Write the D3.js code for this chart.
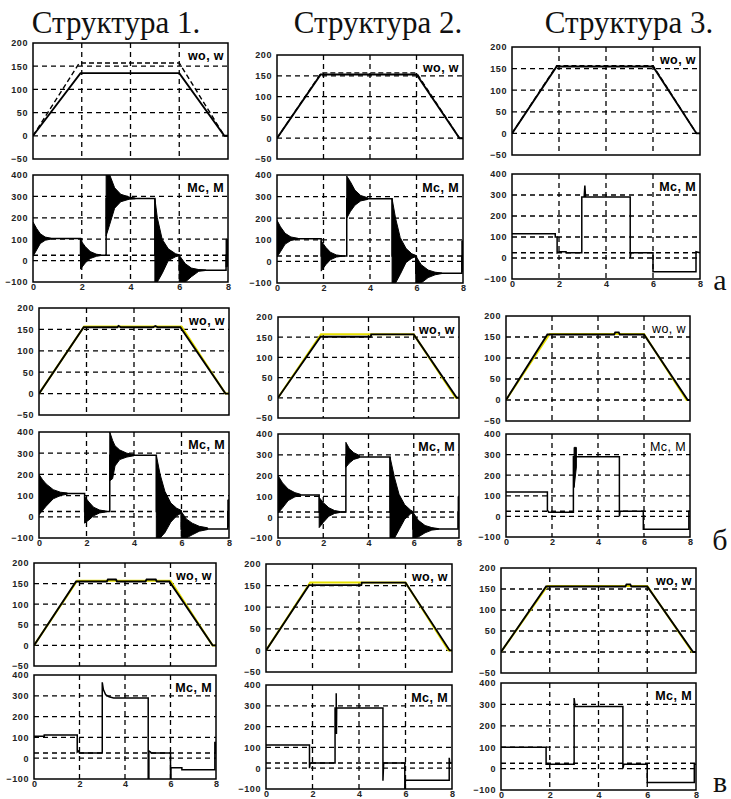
<!DOCTYPE html>
<html>
<head>
<meta charset="utf-8">
<script src="https://cdn.jsdelivr.net/npm/d3@7"></script>
<style>
  body { margin: 0; background: #fff; }
  text { font-family: "Liberation Sans", Arial, sans-serif; }
  .serif { font-family: "Liberation Serif", "DejaVu Serif", "Times New Roman", serif; }
</style>
</head>
<body>
<svg id="fig" width="731" height="799"></svg>
<script>
// подписи
const structures = ["Структура 1.", "Структура 2.", "Структура 3."];
const rowLabels = ["а", "б", "в"];
const speedName = "wo, w";
const torqueName = "Mc, M";

// оси
const timeTicks = [0, 2, 4, 6, 8];
const speedTicks = [200, 150, 100, 50, 0, -50];
const torqueTicks = [400, 300, 200, 100, 0, -100];
const timeGrid = [2, 4, 6];
const speedGrid = [150, 100, 50, 0];
const torqueGrid = [300, 200, 100, 0];
const mcLevel = 25;

// wo – задание скорости (t, рад/с)
const woRef = [[0, 0], [1.9, 157], [6, 157], [7.85, 0], [8, 0]];

// w – скорость, по структурам (строки а, б, в)
const wA1 = [[0, 0], [1.95, 135], [6, 135], [7.85, 0], [8, 0]];
const wA2 = [[0, 0], [1.88, 153], [6, 153], [7.85, 0], [8, 0]];
const wA3 = [[0, 0], [1.9, 155], [6, 155], [7.85, 0], [8, 0]];
const wB1 = [[0, 0], [1.88, 155], [3.3, 155], [3.35, 158], [3.45, 155], [4.8, 155], [4.9, 158], [5, 155], [5.95, 155], [7.85, 0], [8, 0]];
const wB2 = [[0, 0], [1.88, 151], [4.1, 151], [4.12, 157], [6, 157], [7.9, 0], [8, 0]];
const wB3 = [[0, 0], [1.8, 156], [4.7, 156], [4.75, 161], [4.9, 161], [4.95, 156], [6, 156], [7.9, 0], [8, 0]];
const wC1 = [[0, 0], [1.85, 155], [3.2, 155], [3.25, 160], [3.6, 160], [3.65, 155], [4.9, 155], [4.95, 160], [5.35, 160], [5.4, 155], [5.95, 155], [7.85, 0], [8, 0]];
const wC2 = [[0, 0], [1.85, 151], [4.1, 151], [4.12, 157], [6, 157], [7.9, 0], [8, 0]];
const wC3 = [[0, 0], [1.85, 156], [5.1, 156], [5.15, 161], [5.3, 161], [5.35, 156], [6, 156], [7.88, 0], [8, 0]];

// M – момент двигателя (t, Н·м)
const mA1 = [[0, 103], [1.95, 103], [1.95, 25], [3, 25], [3, 290], [5, 290], [5, 25], [6, 25], [6, -45], [7.92, -45], [7.92, 25], [8, 25]];
const mA2 = [[0, 105], [1.9, 105], [1.9, 25], [3, 25], [3, 290], [4.95, 290], [4.95, 25], [5.97, 25], [5.97, -55], [7.95, -55], [7.95, 25], [8, 25]];
const mA3 = [[0, 115], [1.84, 115], [1.84, 100], [1.92, 100], [1.92, 25], [2, 30], [2.3, 30], [2.3, 25], [2.97, 25], [2.97, 290], [3.07, 290], [3.1, 345], [3.13, 290], [5.03, 290], [5.03, 0], [5.06, 25], [6, 25], [6, -65], [7.83, -65], [7.83, 30], [8, 25]];
const mB1 = [[0, 110], [1.92, 110], [1.92, 25], [2.98, 25], [2.98, 290], [4.94, 290], [4.94, 25], [5.99, 25], [5.99, -57], [7.95, -57], [7.95, 25], [8, 25]];
const mB2 = [[0, 107], [1.82, 107], [1.82, 25], [3, 25], [3, 290], [4.95, 290], [4.95, 25], [5.96, 25], [5.96, -57], [7.96, -57], [7.96, 25], [8, 25]];
const mB3 = [[0, 118], [1.8, 118], [1.8, 30], [1.86, 20], [2.93, 20], [2.93, 290], [4.93, 290], [4.93, 0], [4.96, 25], [5.97, 25], [5.97, -62], [7.95, -62], [7.95, 25], [8, 25]];
const mC1 = [[0, 105], [0.45, 105], [0.45, 112], [1.9, 112], [1.9, 30], [1.95, 35], [2, 25], [3, 25], [3, 365], [3.05, 330], [3.15, 305], [3.3, 295], [3.5, 290], [5.02, 290], [5.02, -100], [5.05, -100], [5.05, 35], [5.12, 30], [5.15, 25], [6, 25], [6, -100], [6.02, -100], [6.02, -46], [6.5, -46], [6.5, -56], [7.95, -56], [7.95, 75], [7.98, 75], [7.98, 25], [8, 25]];
const mC2 = [[0, 112], [1.87, 112], [1.87, 0], [1.9, 25], [2.97, 25], [2.97, 290], [3.02, 290], [3.02, 360], [3.03, 165], [3.04, 290], [5.03, 290], [5.03, -60], [5.06, 25], [5.97, 25], [5.97, -100], [6, -58], [7.88, -58], [7.88, 50], [7.9, 25], [8, 25]];
const mC3 = [[0, 100], [1.85, 100], [1.85, 20], [3, 20], [3, 330], [3.04, 290], [5, 290], [5, 0], [5.04, 20], [6, 20], [6, -65], [7.93, -65], [7.93, 20], [8, 20]];

// огибающие колебаний момента (t, верх, низ)
const envA1 = [
  [[0, 180, 20], [0.15, 150, 50], [0.3, 125, 80], [0.5, 110, 95], [0.75, 104, 101]],
  [[1.95, 95, -40], [2.15, 65, -10], [2.35, 42, 10], [2.6, 30, 20], [2.8, 26, 24]],
  [[3, 400, 115], [3.15, 400, 170], [3.35, 340, 245], [3.6, 310, 275], [3.95, 297, 287], [4.2, 292, 289]],
  [[5, 290, -100], [5.1, 200, -100], [5.3, 100, -60], [5.55, 55, 0], [5.85, 32, 18], [6, 27, 23]],
  [[6, 25, -100], [6.25, -15, -100], [6.5, -35, -75], [6.8, -42, -50], [7.1, -44, -46]],
  [[7.92, 100, -30], [8, 100, -25]]
];
const envA2 = [
  [[0, 190, 20], [0.15, 160, 45], [0.35, 130, 80], [0.6, 113, 97], [0.9, 107, 103]],
  [[1.9, 95, -45], [2.1, 65, -15], [2.3, 42, 8], [2.55, 30, 20], [2.8, 26, 24]],
  [[3, 395, 200], [3.15, 370, 230], [3.35, 330, 260], [3.6, 305, 280], [3.9, 295, 287]],
  [[4.95, 290, -100], [5.1, 200, -100], [5.3, 110, -60], [5.55, 60, -5], [5.8, 35, 15], [5.97, 28, 22]],
  [[5.97, 25, -100], [6.2, -15, -100], [6.5, -40, -75], [6.8, -50, -62], [7.1, -54, -56]],
  [[7.95, 95, -50], [8, 95, -40]]
];
const envB1 = [
  [[0, 200, 10], [0.15, 175, 30], [0.3, 155, 50], [0.6, 128, 85], [0.9, 116, 100], [1.2, 112, 107]],
  [[1.92, 95, -30], [2.1, 70, -15], [2.3, 45, 5], [2.55, 32, 18], [2.8, 27, 23]],
  [[2.98, 400, 170], [3.1, 360, 180], [3.2, 335, 240], [3.4, 315, 270], [3.7, 300, 282], [4, 293, 288]],
  [[4.94, 290, -100], [5.1, 200, -100], [5.3, 120, -75], [5.55, 65, -25], [5.8, 40, 5], [6, 30, 18]],
  [[5.99, 25, -100], [6.2, -10, -100], [6.45, -30, -85], [6.75, -45, -68], [7.1, -52, -60]],
  [[7.95, 80, -50], [8, 80, -40]]
];
const envB2 = [
  [[0, 200, 20], [0.2, 165, 45], [0.45, 135, 80], [0.75, 118, 98], [1, 110, 104]],
  [[1.82, 95, -50], [2, 70, -25], [2.25, 45, 5], [2.5, 32, 18], [2.75, 27, 23]],
  [[3, 360, 240], [3.15, 330, 260], [3.35, 310, 278], [3.6, 297, 286]],
  [[4.95, 290, -100], [5.15, 190, -100], [5.35, 110, -60], [5.6, 60, -10], [5.85, 35, 15], [5.96, 28, 22]],
  [[5.96, 25, -100], [6.2, -15, -95], [6.5, -40, -75], [6.8, -50, -62], [7.1, -55, -58]],
  [[7.96, 100, -50], [8, 100, -40]]
];
const envB3 = [
  [[2.96, 335, 140], [3.06, 335, 240]]
];
const envNone = [];

const wSeries = [[wA1, wA2, wA3], [wB1, wB2, wB3], [wC1, wC2, wC3]];
const mSeries = [[mA1, mA2, mA3], [mB1, mB2, mB3], [mC1, mC2, mC3]];
const envSeries = [[envA1, envA2, envNone], [envB1, envB2, envB3], [envNone, envNone, envNone]];

// размещение рамок: [x0, x1, верх скорости, низ скорости, верх момента, низ момента]
const frames = [
  [[33, 228, 43, 159, 175, 282], [277, 463, 55, 159, 175, 283], [512, 700, 47, 155, 174, 279]],
  [[39, 229, 308, 415, 432, 538], [278, 459, 317, 418, 434, 538], [506, 690, 316, 421, 434, 537]],
  [[34, 216, 563, 666, 675, 779], [266, 452, 564, 672, 685, 789], [501, 696, 568, 673, 683, 790]]
];
const titleX = [116, 378, 629];
const rowLabelY = [290, 550, 792];

const svg = d3.select("#fig");
svg.append("rect").attr("width", 731).attr("height", 799).attr("fill", "#fff");

structures.forEach((s, i) => {
  svg.append("text").attr("class", "serif").attr("x", titleX[i]).attr("y", 33)
    .attr("text-anchor", "middle")
    .style("font-size", "31px").attr("fill", "#111").text(s);
});
rowLabels.forEach((s, i) => {
  svg.append("text").attr("class", "serif").attr("x", 720).attr("y", rowLabelY[i])
    .attr("text-anchor", "middle")
    .style("font-size", "30px").attr("fill", "#111").text(s);
});

let clipId = 0;
function plot(x0, x1, y0, y1, domainY, ticksY, gridY, name, thin) {
  const g = svg.append("g");
  const x = d3.scaleLinear().domain([0, 8]).range([x0, x1]);
  const y = d3.scaleLinear().domain(domainY).range([y1, y0]);
  const id = "clip" + (clipId++);
  g.append("clipPath").attr("id", id).append("rect")
    .attr("x", x0).attr("y", y0).attr("width", x1 - x0).attr("height", y1 - y0);

  // сетка
  const grid = g.append("g").attr("stroke", "#000").attr("stroke-width", 1.3)
    .attr("stroke-dasharray", "5,4");
  grid.selectAll(".gx").data(timeGrid).join("line")
    .attr("x1", d => x(d)).attr("x2", d => x(d)).attr("y1", y0).attr("y2", y1);
  grid.selectAll(".gy").data(gridY).join("line")
    .attr("x1", x0).attr("x2", x1).attr("y1", d => y(d)).attr("y2", d => y(d));

  // подписи делений
  const ax = g.append("g").attr("transform", `translate(${x0},0)`)
    .call(d3.axisLeft(y).tickValues(ticksY).tickSize(0).tickPadding(5));
  ax.select(".domain").remove();
  ax.selectAll("text").style("font-size", "9px").style("font-weight", "bold")
    .attr("fill", "#222").style("letter-spacing", "0.6px");

  const body = g.append("g").attr("clip-path", `url(#${id})`);
  g.append("text").attr("x", x1 - 4).attr("y", y0 + 17).attr("text-anchor", "end")
    .style("font-size", "12.5px").style("font-weight", thin ? "normal" : "bold")
    .style("letter-spacing", "0.4px")
    .attr("fill", "#000").text(name);
  g.append("rect").attr("x", x0).attr("y", y0).attr("width", x1 - x0).attr("height", y1 - y0)
    .attr("fill", "none").attr("stroke", "#000").attr("stroke-width", 1.5);
  return { g, body, x, y };
}

const line = (x, y) => d3.line().x(d => x(d[0])).y(d => y(d[1]));

for (let r = 0; r < 3; r++) {
  for (let c = 0; c < 3; c++) {
    const [x0, x1, sy0, sy1, ty0, ty1] = frames[r][c];
    const thin = r === 1 && c === 2;

    // скорость
    const sp = plot(x0, x1, sy0, sy1, [-50, 200], speedTicks, speedGrid, speedName, thin);
    if (r === 0) {
      sp.body.append("path").datum(woRef).attr("d", line(sp.x, sp.y))
        .attr("fill", "none").attr("stroke", "#000").attr("stroke-width", 1.4)
        .attr("stroke-dasharray", "5,3");
    } else {
      sp.body.append("path").datum(woRef).attr("d", line(sp.x, sp.y))
        .attr("fill", "none").attr("stroke", "#e6e000").attr("stroke-width", 2);
    }
    sp.body.append("path").datum(wSeries[r][c]).attr("d", line(sp.x, sp.y))
      .attr("fill", "none").attr("stroke", "#000").attr("stroke-width", 1.9);

    // момент
    const tq = plot(x0, x1, ty0, ty1, [-100, 400], torqueTicks, torqueGrid, torqueName, thin);
    tq.body.append("line").attr("x1", x0).attr("x2", x1)
      .attr("y1", tq.y(mcLevel)).attr("y2", tq.y(mcLevel))
      .attr("stroke", "#000").attr("stroke-width", 1.3).attr("stroke-dasharray", "5,4");
    const area = d3.area().x(d => tq.x(d[0])).y0(d => tq.y(d[2])).y1(d => tq.y(d[1]));
    tq.body.selectAll(".env").data(envSeries[r][c]).join("path")
      .attr("d", area).attr("fill", "#000").attr("stroke", "#000").attr("stroke-width", 1);
    tq.body.append("path").datum(mSeries[r][c]).attr("d", line(tq.x, tq.y))
      .attr("fill", "none").attr("stroke", "#000").attr("stroke-width", 1.5);

    const xa = tq.g.append("g").attr("transform", `translate(0,${ty1})`)
      .call(d3.axisBottom(tq.x).tickValues(timeTicks).tickSize(0).tickPadding(2));
    xa.select(".domain").remove();
    xa.selectAll("text").style("font-size", "9px").style("font-weight", "bold").attr("fill", "#222");
  }
}
</script>
</body>
</html>
